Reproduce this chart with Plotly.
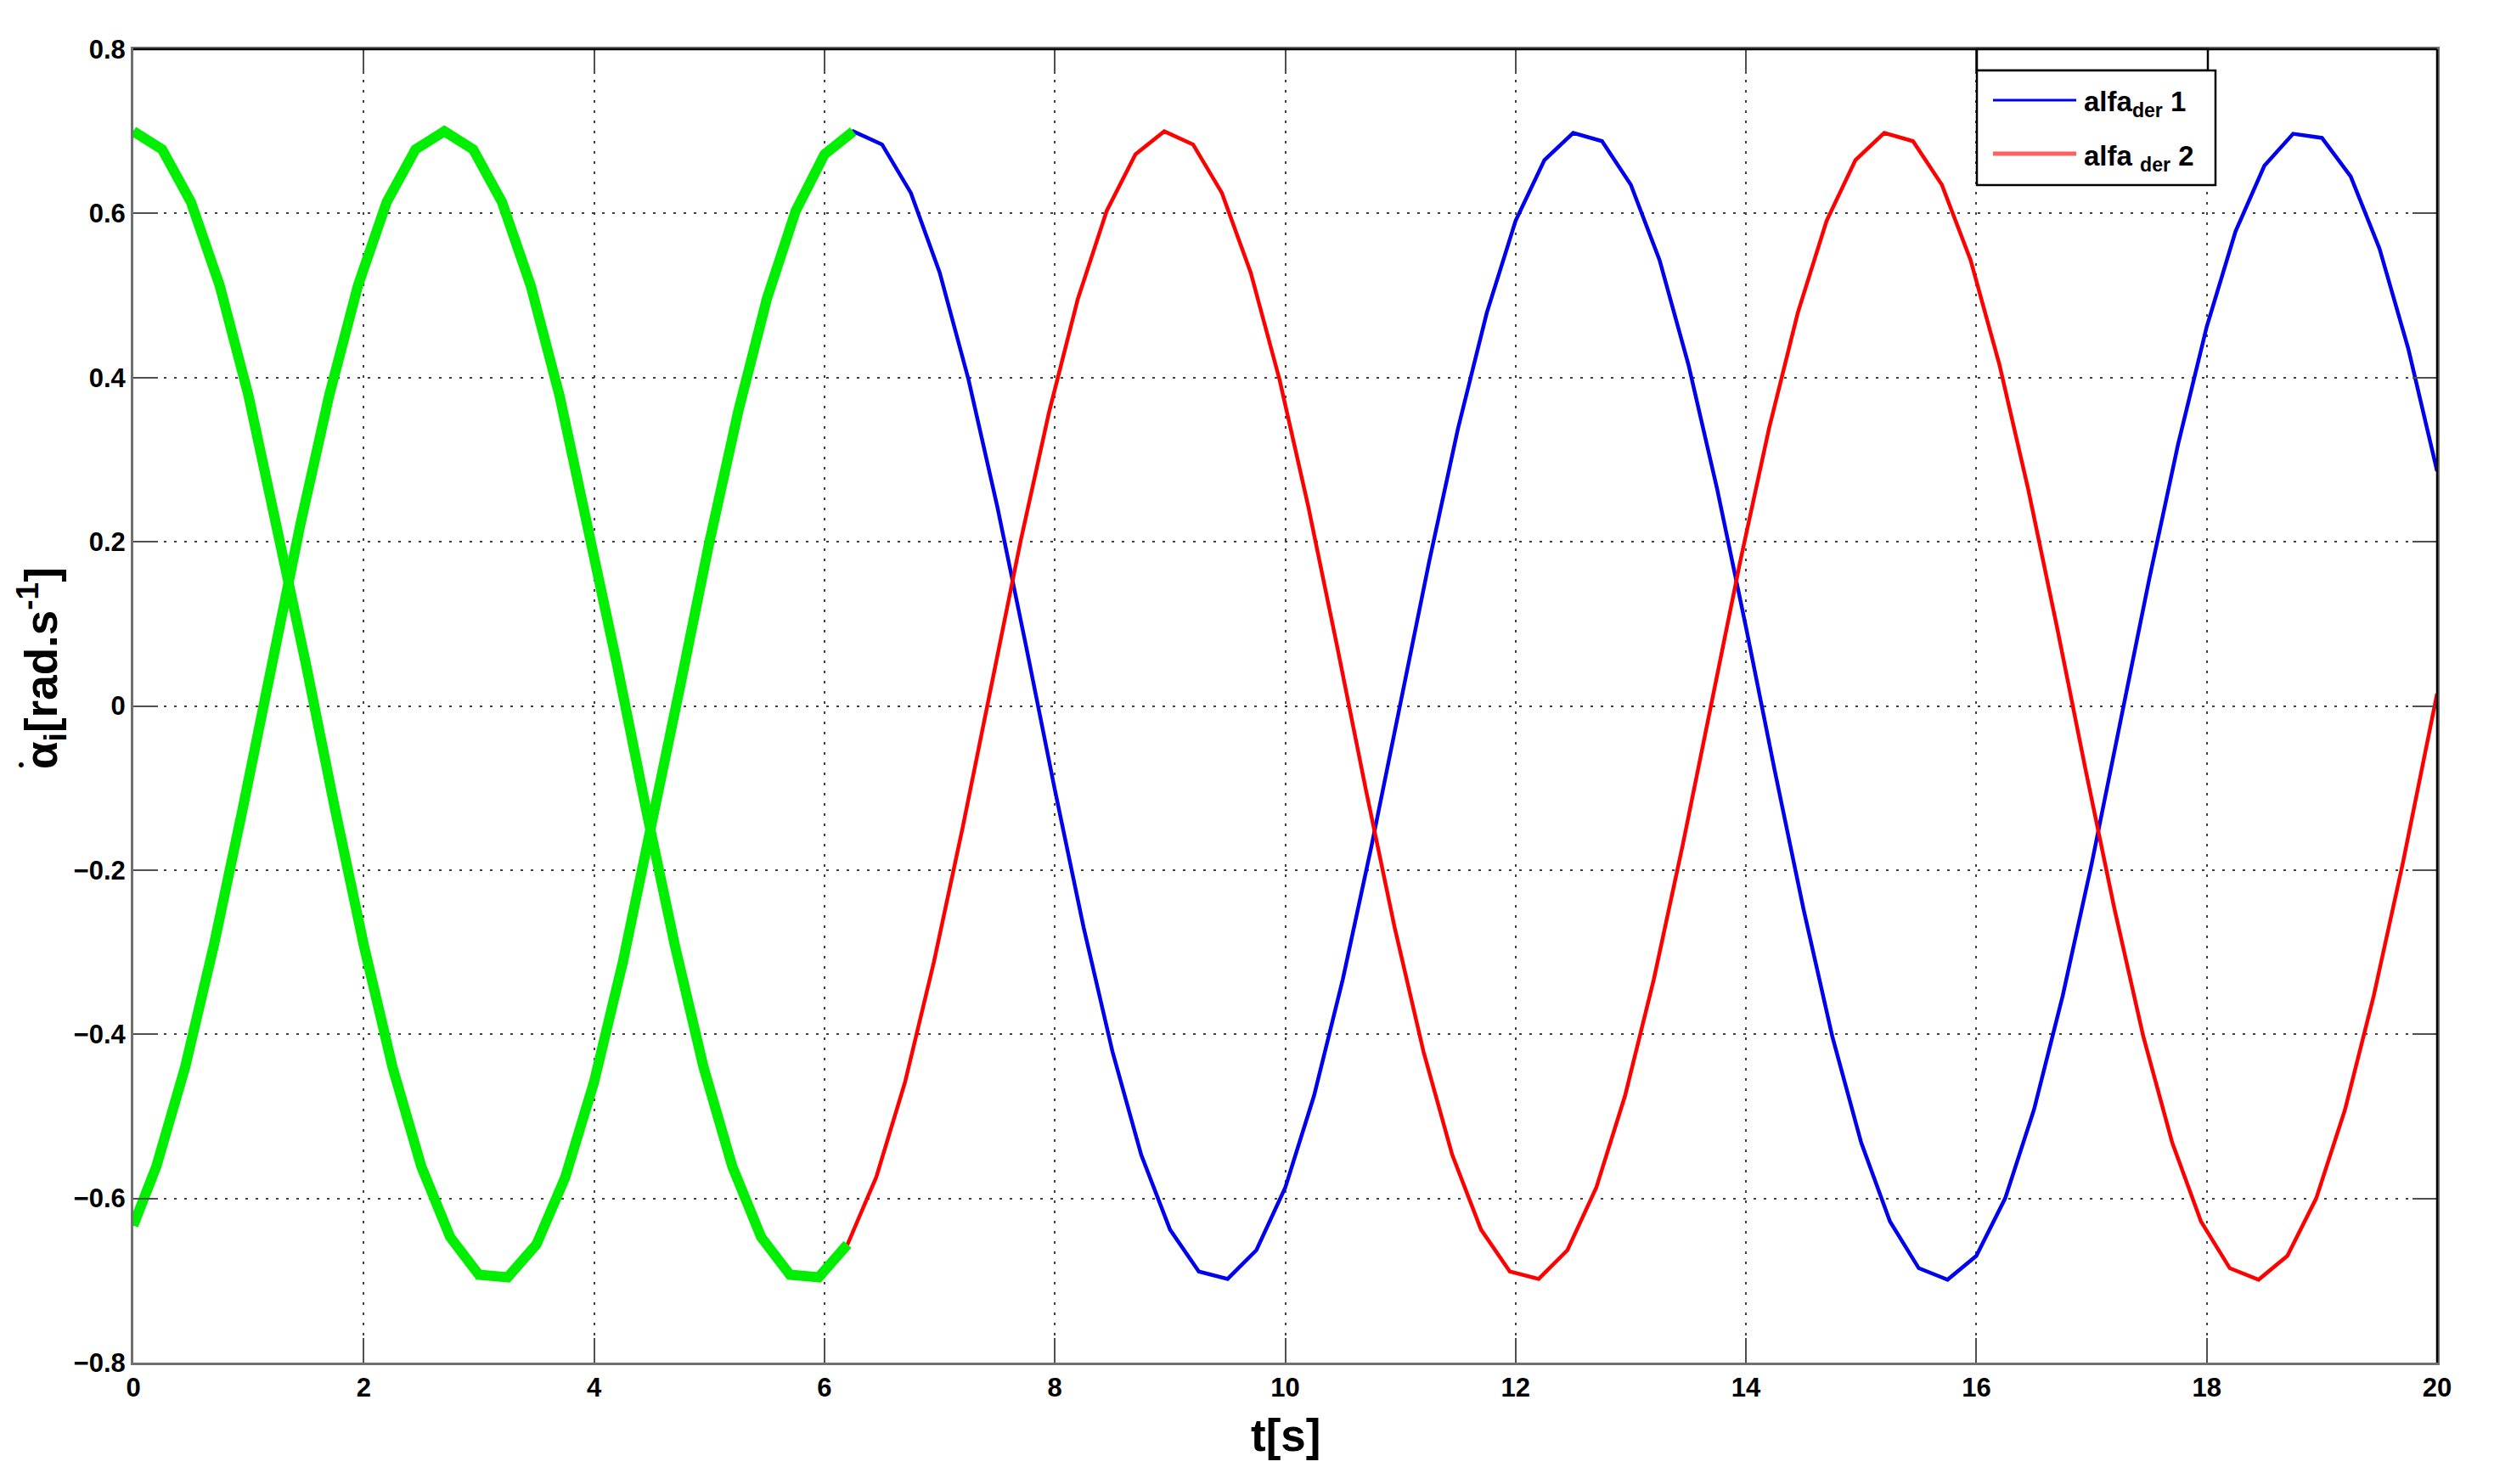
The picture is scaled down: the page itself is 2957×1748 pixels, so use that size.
import plotly.graph_objects as go

# ---- data ----
t_1 = [0, 0.25, 0.5, 0.75, 1, 1.25, 1.5, 1.75, 2, 2.25, 2.5, 2.75, 3, 3.25, 3.5, 3.75,
       4, 4.25, 4.5, 4.75, 5, 5.25, 5.5, 5.75, 6, 6.25, 6.5, 6.75, 7, 7.25, 7.5, 7.75,
       8, 8.25, 8.5, 8.75, 9, 9.25, 9.5, 9.75, 10, 10.25, 10.5, 10.75, 11, 11.25, 11.5,
       11.75, 12, 12.25, 12.5, 12.75, 13, 13.25, 13.5, 13.75, 14, 14.25, 14.5, 14.75,
       15, 15.25, 15.5, 15.75, 16, 16.25, 16.5, 16.75, 17, 17.25, 17.5, 17.75, 18,
       18.25, 18.5, 18.75, 19, 19.25, 19.5, 19.75, 20]
alfa_der_1 = [0.700, 0.678, 0.614, 0.512, 0.378, 0.221, 0.050, -0.125, -0.291, -0.440,
              -0.561, -0.647, -0.693, -0.696, -0.656, -0.574, -0.458, -0.312, -0.148, 0.026,
              0.199, 0.358, 0.496, 0.603, 0.672, 0.700, 0.684, 0.625, 0.528, 0.398,
              0.243, 0.073, -0.102, -0.270, -0.421, -0.547, -0.638, -0.689, -0.698, -0.663,
              -0.587, -0.475, -0.333, -0.170, 0.003, 0.176, 0.338, 0.479, 0.591, 0.665,
              0.698, 0.688, 0.635, 0.543, 0.416, 0.264, 0.096, -0.079, -0.248, -0.403,
              -0.532, -0.628, -0.685, -0.699, -0.670, -0.600, -0.492, -0.353, -0.193, -0.020,
              0.154, 0.318, 0.462, 0.578, 0.658, 0.697, 0.692, 0.645, 0.557, 0.435,
              0.286]

t_2 = [0, 0.2, 0.45, 0.7, 0.95, 1.2, 1.45, 1.7, 1.95, 2.2, 2.45, 2.7, 2.95, 3.2, 3.45,
       3.7, 3.95, 4.2, 4.45, 4.7, 4.95, 5.2, 5.45, 5.7, 5.95, 6.2, 6.45, 6.7, 6.95, 7.2,
       7.45, 7.7, 7.95, 8.2, 8.45, 8.7, 8.95, 9.2, 9.45, 9.7, 9.95, 10.2, 10.45, 10.7,
       10.95, 11.2, 11.45, 11.7, 11.95, 12.2, 12.45, 12.7, 12.95, 13.2, 13.45, 13.7,
       13.95, 14.2, 14.45, 14.7, 14.95, 15.2, 15.45, 15.7, 15.95, 16.2, 16.45, 16.7,
       16.95, 17.2, 17.45, 17.7, 17.95, 18.2, 18.45, 18.7, 18.95, 19.2, 19.45, 19.7,
       19.95, 20]
alfa_der_2 = [-0.633,
              -0.561, -0.440, -0.291, -0.125, 0.050, 0.221, 0.378, 0.512, 0.614, 0.678,
              0.700, 0.678, 0.614, 0.512, 0.378, 0.221, 0.050, -0.125, -0.291, -0.440,
              -0.561, -0.647, -0.693, -0.696, -0.656, -0.574, -0.458, -0.312, -0.148, 0.026,
              0.199, 0.358, 0.496, 0.603, 0.672, 0.700, 0.684, 0.625, 0.528, 0.398,
              0.243, 0.073, -0.102, -0.270, -0.421, -0.547, -0.638, -0.689, -0.698, -0.663,
              -0.587, -0.475, -0.333, -0.170, 0.003, 0.176, 0.338, 0.479, 0.591, 0.665,
              0.698, 0.688, 0.635, 0.543, 0.416, 0.264, 0.096, -0.079, -0.248, -0.403,
              -0.532, -0.628, -0.685, -0.699, -0.670, -0.600, -0.492, -0.353, -0.193, -0.020,
              0.015]

green_end = 6.28          # first period highlighted in green
x_ticks = [0, 2, 4, 6, 8, 10, 12, 14, 16, 18, 20]
y_ticks = [-0.8, -0.6, -0.4, -0.2, 0, 0.2, 0.4, 0.6, 0.8]

# ---- figure geometry (screen pixels; page body adds an 8px offset) ----
OFF = 8
W, H = 2957 - OFF, 1748 - OFF
L, R, T, B = 157, 2870, 58, 1605
def px(x):
    return (x - L) / (R - L)
def py(y):
    return (B - y) / (B - T)

BLUE = "#0000ee"
RED = "#ff0000"
GREEN = "#00ee00"

fig = go.Figure()
fig.add_trace(go.Scatter(x=t_1, y=alfa_der_1, mode="lines", name="alfa der 1",
                         line=dict(color=BLUE, width=4.5), showlegend=False))
fig.add_trace(go.Scatter(x=t_2, y=alfa_der_2, mode="lines", name="alfa der 2",
                         line=dict(color=RED, width=4.5), showlegend=False))
g1 = [(t, v) for t, v in zip(t_1, alfa_der_1) if t <= green_end]
g2 = [(t, v) for t, v in zip(t_2, alfa_der_2) if t <= green_end]
for g in (g1, g2):
    fig.add_trace(go.Scatter(x=[p[0] for p in g], y=[p[1] for p in g], mode="lines",
                             line=dict(color=GREEN, width=12), showlegend=False,
                             hoverinfo="skip"))

tickfont = dict(family="Liberation Sans, Arial, sans-serif", size=31, color="black",
                weight="bold")
axis_common = dict(showgrid=True, gridcolor="#404040", gridwidth=2, griddash="3px,9px",
                   ticks="inside", ticklen=29, tickwidth=2, tickcolor="#505050",
                   showline=True, linecolor="#707070", linewidth=3, mirror="ticks",
                   zeroline=False, tickfont=tickfont)

fig.update_layout(
    width=W, height=H,
    margin=dict(l=L - OFF, r=W - (R - OFF), t=T - OFF, b=H - (B - OFF)),
    paper_bgcolor="white", plot_bgcolor="white",
    xaxis=dict(range=[0, 20], tickvals=x_ticks, **axis_common),
    yaxis=dict(range=[-0.8, 0.8], tickvals=y_ticks, **axis_common),
    showlegend=False,
)

shapes = [
    # black top & right frame
    dict(type="line", xref="paper", yref="paper", x0=0, x1=1, y0=1, y1=1,
         line=dict(color="black", width=2.5), layer="above"),
    dict(type="line", xref="paper", yref="paper", x0=1, x1=1, y0=0, y1=1,
         line=dict(color="black", width=2.5), layer="above"),
    # small box above the legend
    dict(type="rect", xref="paper", yref="paper", x0=px(2328), x1=px(2600),
         y0=py(83), y1=py(58), line=dict(color="black", width=2.5),
         fillcolor="white", layer="above"),
    # legend box
    dict(type="rect", xref="paper", yref="paper", x0=px(2328), x1=px(2609),
         y0=py(218), y1=py(83), line=dict(color="black", width=2.5),
         fillcolor="white", layer="above"),
    dict(type="line", xref="paper", yref="paper", x0=px(2347), x1=px(2445),
         y0=py(118), y1=py(118), line=dict(color=BLUE, width=3), layer="above"),
    dict(type="line", xref="paper", yref="paper", x0=px(2347), x1=px(2445),
         y0=py(181), y1=py(181), line=dict(color="#ff6060", width=5), layer="above"),
]
fig.update_layout(shapes=shapes)

legfont = dict(family="Liberation Sans, Arial, sans-serif", size=33, color="black",
               weight="bold")
titlefont = dict(family="Liberation Sans, Arial, sans-serif", size=53, color="black",
                 weight="bold")
fig.add_annotation(text="alfa<sub>der</sub> 1", xref="paper", yref="paper",
                   x=px(2452), y=py(122), xanchor="left", yanchor="middle",
                   showarrow=False, font=legfont)
fig.add_annotation(text="alfa <sub>der</sub> 2", xref="paper", yref="paper",
                   x=px(2452), y=py(186), xanchor="left", yanchor="middle",
                   showarrow=False, font=legfont)
fig.add_annotation(text="t[s]", xref="paper", yref="paper", x=0.5, y=py(1690),
                   xanchor="center", yanchor="middle", showarrow=False, font=titlefont)
fig.add_annotation(text="α<sub>i</sub>[rad.s<sup>-1</sup>]", xref="paper",
                   yref="paper", x=px(48), y=py(787), xanchor="center",
                   yanchor="middle", textangle=-90, showarrow=False, font=titlefont)
# the derivative dot over alpha
fig.add_annotation(text="•", xref="paper", yref="paper", x=px(25), y=py(900),
                   xanchor="center", yanchor="middle", showarrow=False,
                   font=dict(family="Liberation Sans, Arial, sans-serif", size=22,
                             color="black"))

fig.write_html("out.html")
